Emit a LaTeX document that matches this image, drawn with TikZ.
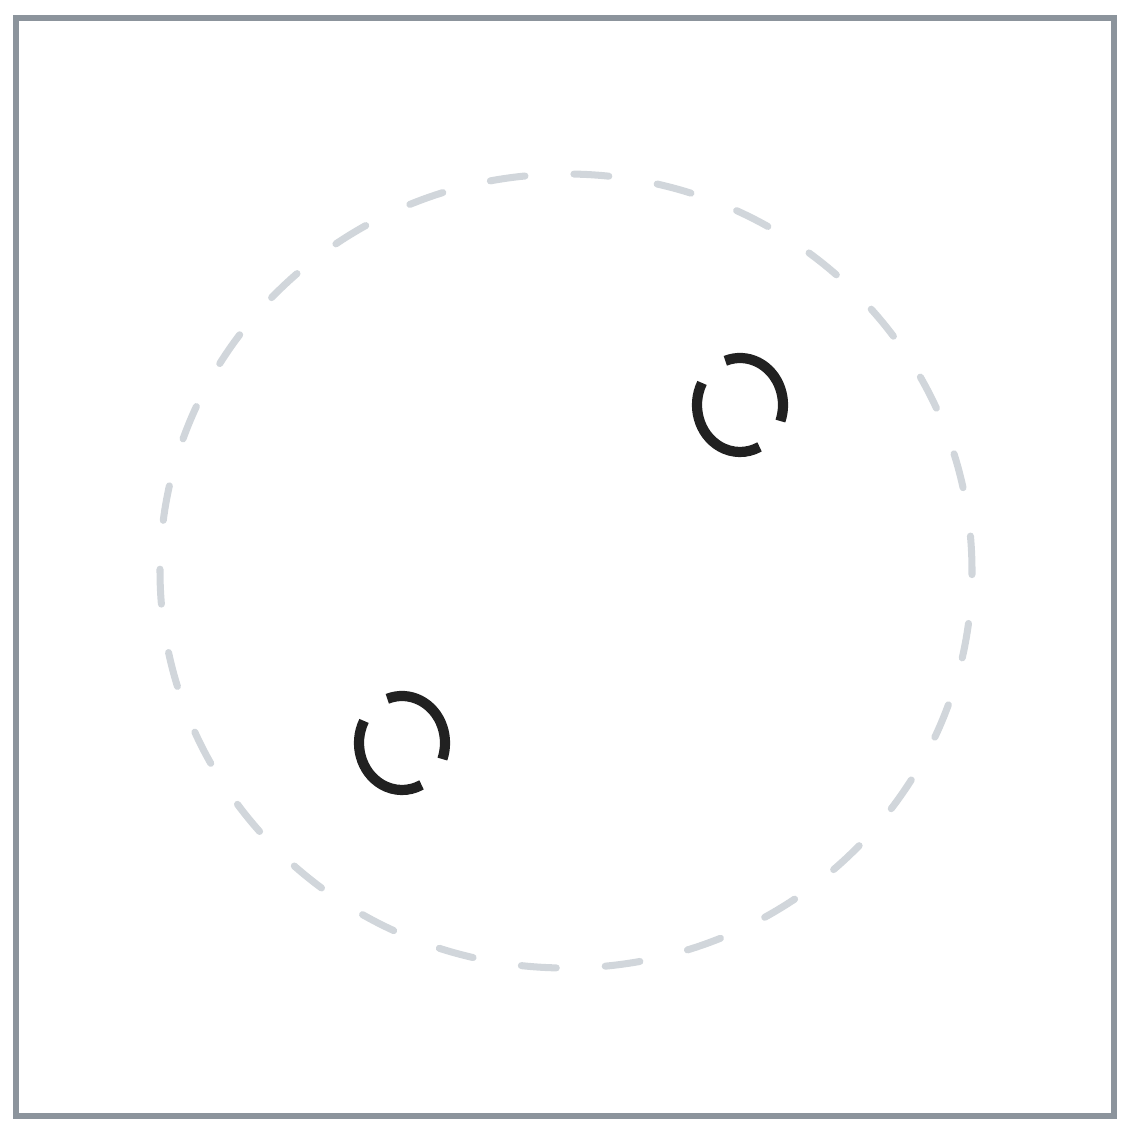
\documentclass[tikz,border=0pt]{standalone}
\usepackage{tikz}
\definecolor{framegray}{rgb}{0.55, 0.58, 0.61}
\definecolor{ringgray}{rgb}{0.82, 0.84, 0.86}
\definecolor{iconblack}{rgb}{0.13, 0.13, 0.13}

\begin{document}
\begin{tikzpicture}[x=0.02cm, y=0.02cm,
	frame/.style={draw=framegray, line width=3pt},
	ring/.style={draw=ringgray, line width=4pt, line cap=round, dash pattern=on 0.7cm off 0.98cm},
	iconarc/.style={draw=iconblack, line width=5.8pt}]
			\useasboundingbox (0,0) rectangle (1132,1130);
			\draw [frame] (16,14) rectangle (1114,1112);
			\coordinate (C) at (566,559);
			\draw [ring] (C) ellipse [x radius=406, y radius=397];
			\coordinate (R1) at (740,725);
			\coordinate (R2) at (402,387);
			\foreach \r in {R1,R2} {
				\draw [iconarc] ([shift={(110:43 and 47)}]\r) arc [start angle=110, end angle=-20, x radius=43, y radius=47];
				\draw [iconarc] ([shift={(152:43 and 47)}]\r) arc [start angle=152, end angle=297, x radius=43, y radius=47];
			}
		\end{tikzpicture}
\end{document}
